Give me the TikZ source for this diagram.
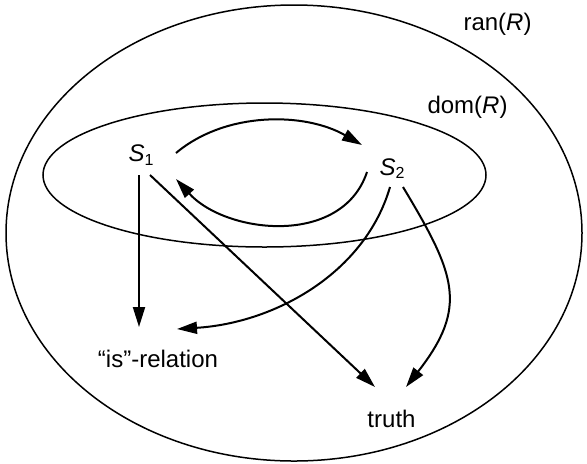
\documentclass[tikz,border=0pt]{standalone}
\usepackage{fontspec}
\setmainfont{Liberation Sans}
\usetikzlibrary{arrows.meta, shapes.geometric}

\begin{document}
\begin{tikzpicture}[
    x=0.5pt, y=0.5pt,
    >={Triangle[length=10pt, width=6pt]},
    font=\fontsize{12}{14}\selectfont,
    setshape/.style={ellipse, draw=black, line width=0.75pt, inner sep=0pt, outer sep=0pt},
    lbl/.style={inner sep=0pt, outer sep=0pt},
    line/.style={draw=black, line width=1pt, ->}
]

    \useasboundingbox (0,0) rectangle (587,463);

    % Sets
    \node [setshape, minimum width=288pt, minimum height=228pt] (ran) at (294,230) {};
    \node [setshape, minimum width=221.5pt, minimum height=72pt] (dom) at (264.5,288) {};
    \node [lbl] (ranlbl) at (497.5,439) {ran(\textit{R})};
    \node [lbl] (domlbl) at (467.5,355.5) {dom(\textit{R})};

    % Elements
    \node [lbl] (S1) at (141.5,308) {\textit{S}\textsubscript{1}};
    \node [lbl] (S2) at (392.5,294.5) {\textit{S}\textsubscript{2}};
    \node [lbl] (isrel) at (158,104) {“is”-relation};
    \node [lbl] (truth) at (391.5,44.5) {truth};

    \draw [line] ([shift={(34.5,2)}]S1.center) to[out=40, in=150, looseness=0.9] ([shift={(-30.5,23.5)}]S2.center);
    \draw [line] ([shift={(-25.5,-3.5)}]S2.center) .. controls +(-25,-75) and +(50,-55) .. ([shift={(34.5,-24)}]S1.center);
    \draw [line] ([shift={(-2.5,-20)}]S1.center) -- ([shift={(-19,32)}]isrel.center);
    \draw [line] ([shift={(8.5,-20)}]S1.center) -- ([shift={(-16.5,31.5)}]truth.center);
    \draw [line] ([shift={(-2.5,-18.5)}]S2.center) .. controls +(-25,-86) and +(98,6) .. ([shift={(19,30)}]isrel.center);
    \draw [line] ([shift={(10.5,-18.5)}]S2.center) to[out=-59, in=52, looseness=1.3] ([shift={(14.5,31.5)}]truth.center);

\end{tikzpicture}
\end{document}
